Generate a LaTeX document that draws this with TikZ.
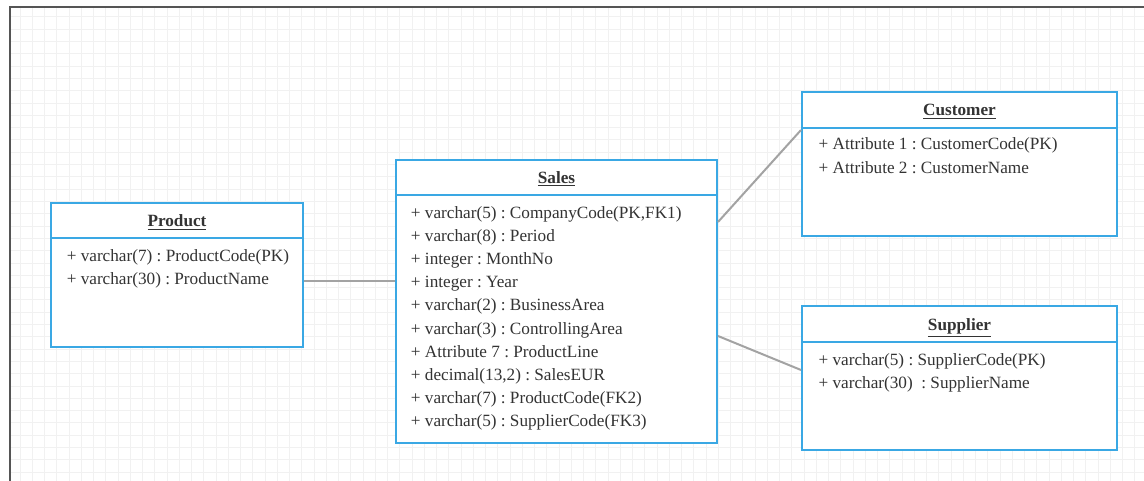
\documentclass[tikz,border=0pt]{standalone}
\usepackage{fontspec}
\setmainfont{Liberation Serif}
\frenchspacing
\definecolor{boxblue}{HTML}{3AA8E4}
\definecolor{txt}{HTML}{333333}
\definecolor{conn}{HTML}{A3A3A3}
\definecolor{gridc}{HTML}{F1F1F1}
\definecolor{framec}{HTML}{555555}
\tikzset{
  entity/.style={draw=boxblue, line width=1.5pt, fill=white, rectangle, inner sep=0pt, anchor=north west},
  divider/.style={draw=boxblue, line width=1.5pt},
  ttl/.style={font=\fontsize{12.9pt}{17.4pt}\selectfont\bfseries, text=txt, anchor=base, inner sep=0pt},
  attrs/.style={font=\fontsize{12.9pt}{17.4pt}\selectfont\frenchspacing, text=txt, align=left, anchor=base west, inner sep=0pt},
  connector/.style={draw=conn, line width=1.5pt},
}
\begin{document}
\begin{tikzpicture}[x=0.75pt,y=-0.75pt]
\useasboundingbox (0,0) rectangle (1144,481);
\fill[white] (0,0) rectangle (1144,481);
% grid
\foreach \i in {0,...,91} \draw[gridc, line width=0.75pt] ({20+12.25*\i},7) -- ({20+12.25*\i},481);
\foreach \j in {0,...,37} \draw[gridc, line width=0.75pt] (10,{17+12.3*\j}) -- (1144,{17+12.3*\j});
% frame
\draw[framec, line width=1.2pt] (10,481) -- (10,7) -- (1144,7);

% boxes
\node[entity, minimum width=189pt, minimum height=108pt] (prod) at (50,202) {};
\node[entity, minimum width=240.75pt, minimum height=212.25pt] (sales) at (395,159) {};
\node[entity, minimum width=236.25pt, minimum height=108pt] (cust) at (801,91) {};
\node[entity, minimum width=236.25pt, minimum height=108pt] (supp) at (801,305) {};

% dividers
\draw[divider] (prod.west |- 0,238) -- (prod.east |- 0,238);
\draw[divider] (sales.west |- 0,195) -- (sales.east |- 0,195);
\draw[divider] (cust.west |- 0,128) -- (cust.east |- 0,128);
\draw[divider] (supp.west |- 0,342) -- (supp.east |- 0,342);

% titles
\node[ttl] (prodT) at (prod.north |- 0,226.7) {\underline{Product}};
\node[ttl] (salesT) at (sales.north |- 0,183.3) {\underline{Sales}};
\node[ttl] (custT) at (cust.north |- 0,116) {\underline{Customer}};
\node[ttl] (suppT) at (supp.north |- 0,330.7) {\underline{Supplier}};

% attributes (anchor = baseline of the last line)
\node[attrs] (prodA) at (66.5,284.2) {+ varchar(7) : ProductCode(PK)\\+ varchar(30) : ProductName};
\node[attrs] (salesA) at (410.7,426.9) {+ varchar(5) : CompanyCode(PK,FK1)\\
+ varchar(8) : Period\\
+ integer : MonthNo\\
+ integer : Year\\
+ varchar(2) : BusinessArea\\
+ varchar(3) : ControllingArea\\
+ Attribute 7 : ProductLine\\
+ decimal(13,2) : SalesEUR\\
+ varchar(7) : ProductCode(FK2)\\
+ varchar(5) : SupplierCode(FK3)};
\node[attrs] (custA) at (818.3,173.2) {+ Attribute 1 : CustomerCode(PK)\\+ Attribute 2 : CustomerName};
\node[attrs] (suppA) at (818.3,388.2) {+ varchar(5) : SupplierCode(PK)\\+ varchar(30)\ \ : SupplierName};

% connectors
\draw[connector] (prod.east |- 0,281) -- (sales.west |- 0,281);
\draw[connector] (sales.east |- 0,222) -- (cust.west |- 0,130);
\draw[connector] (sales.east |- 0,336) -- (supp.west |- 0,370);
\end{tikzpicture}
\end{document}
